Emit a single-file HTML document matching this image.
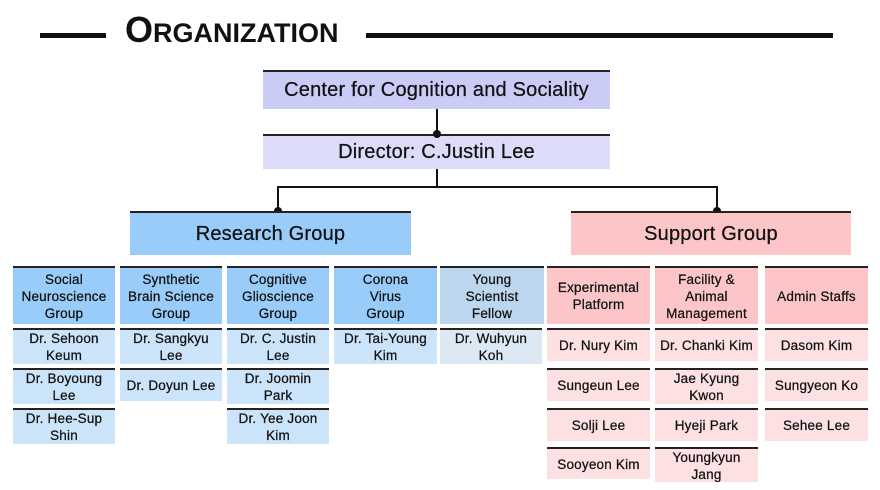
<!DOCTYPE html>
<html><head><meta charset="utf-8"><style>
body{margin:0;width:880px;height:490px;background:#fff;position:relative;overflow:hidden;font-family:"Liberation Sans",sans-serif;color:#111}
.b{position:absolute;display:flex;align-items:center;justify-content:center;text-align:center;box-sizing:border-box;border-top:2px solid #222;font-size:13.5px;line-height:17px;letter-spacing:0.2px;-webkit-text-stroke:0.25px #111}
.rh{background:#99ccf8}.rm{background:#cce4fa}
.yh{background:#bcd6ee}.ym{background:#dce8f4}
.sh{background:#fcc6c8}.sm{background:#fde0e2}
.ln{position:absolute;background:#111}
.dot{position:absolute;width:8px;height:8px;border-radius:50%;background:#111}
</style></head><body>
<div class="ln" style="left:40px;top:33px;width:66px;height:5px"></div>
<div class="ln" style="left:366px;top:33px;width:467px;height:5px"></div>
<div style="position:absolute;left:125px;top:9px;font-size:36px;font-weight:bold;letter-spacing:0;line-height:42px">O<span style="font-size:27px">RGANIZATION</span></div>

<div class="b" style="left:263px;top:70px;width:347px;height:39px;background:#cbcbf7;font-size:20px">Center for Cognition and Sociality</div>
<div class="b" style="left:263px;top:134px;width:347px;height:35px;background:#dcdcf8;font-size:20px">Director: C.Justin Lee</div>
<div class="ln" style="left:436px;top:109px;width:2px;height:25px"></div>
<div class="dot" style="left:433px;top:130px"></div>
<div class="ln" style="left:436px;top:169px;width:2px;height:18px"></div>
<div class="ln" style="left:277px;top:186px;width:441px;height:2px"></div>
<div class="ln" style="left:277px;top:186px;width:2px;height:25px"></div>
<div class="ln" style="left:716px;top:186px;width:2px;height:25px"></div>
<div class="dot" style="left:274px;top:207px"></div>
<div class="dot" style="left:713px;top:207px"></div>
<div class="b rh" style="left:130px;top:211px;width:281px;height:44px;font-size:20px">Research Group</div>
<div class="b sh" style="left:571px;top:211px;width:280px;height:44px;font-size:20px">Support Group</div>

<div class="b rh" style="left:13px;top:266px;width:102px;height:58px">Social<br>Neuroscience<br>Group</div>
<div class="b rm" style="left:13px;top:328px;width:102px;height:36px">Dr. Sehoon<br>Keum</div>
<div class="b rm" style="left:13px;top:368px;width:102px;height:36px">Dr. Boyoung<br>Lee</div>
<div class="b rm" style="left:13px;top:408px;width:102px;height:36px">Dr. Hee-Sup<br>Shin</div>

<div class="b rh" style="left:120px;top:266px;width:102px;height:58px">Synthetic<br>Brain Science<br>Group</div>
<div class="b rm" style="left:120px;top:328px;width:102px;height:36px">Dr. Sangkyu<br>Lee</div>
<div class="b rm" style="left:120px;top:368px;width:102px;height:33px">Dr. Doyun Lee</div>

<div class="b rh" style="left:227px;top:266px;width:102px;height:58px">Cognitive<br>Glioscience<br>Group</div>
<div class="b rm" style="left:227px;top:328px;width:102px;height:36px">Dr. C. Justin<br>Lee</div>
<div class="b rm" style="left:227px;top:368px;width:102px;height:36px">Dr. Joomin<br>Park</div>
<div class="b rm" style="left:227px;top:408px;width:102px;height:36px">Dr. Yee Joon<br>Kim</div>

<div class="b rh" style="left:334px;top:266px;width:103px;height:58px">Corona<br>Virus<br>Group</div>
<div class="b rm" style="left:334px;top:328px;width:103px;height:36px">Dr. Tai-Young<br>Kim</div>

<div class="b yh" style="left:440px;top:266px;width:104px;height:58px">Young<br>Scientist<br>Fellow</div>
<div class="b ym" style="left:440px;top:328px;width:102px;height:36px">Dr. Wuhyun<br>Koh</div>

<div class="b sh" style="left:547px;top:266px;width:103px;height:58px">Experimental<br>Platform</div>
<div class="b sm" style="left:547px;top:328px;width:103px;height:33px">Dr. Nury Kim</div>
<div class="b sm" style="left:547px;top:368px;width:103px;height:33px">Sungeun Lee</div>
<div class="b sm" style="left:547px;top:408px;width:103px;height:33px">Solji Lee</div>
<div class="b sm" style="left:547px;top:447px;width:103px;height:32px">Sooyeon Kim</div>

<div class="b sh" style="left:655px;top:266px;width:103px;height:58px">Facility &amp;<br>Animal<br>Management</div>
<div class="b sm" style="left:655px;top:328px;width:103px;height:33px">Dr. Chanki Kim</div>
<div class="b sm" style="left:655px;top:368px;width:103px;height:36px">Jae Kyung<br>Kwon</div>
<div class="b sm" style="left:655px;top:408px;width:103px;height:33px">Hyeji Park</div>
<div class="b sm" style="left:655px;top:447px;width:103px;height:35px">Youngkyun<br>Jang</div>

<div class="b sh" style="left:765px;top:266px;width:103px;height:58px">Admin Staffs</div>
<div class="b sm" style="left:765px;top:328px;width:103px;height:33px">Dasom Kim</div>
<div class="b sm" style="left:765px;top:368px;width:103px;height:33px">Sungyeon Ko</div>
<div class="b sm" style="left:765px;top:408px;width:103px;height:33px">Sehee Lee</div>
</body></html>
